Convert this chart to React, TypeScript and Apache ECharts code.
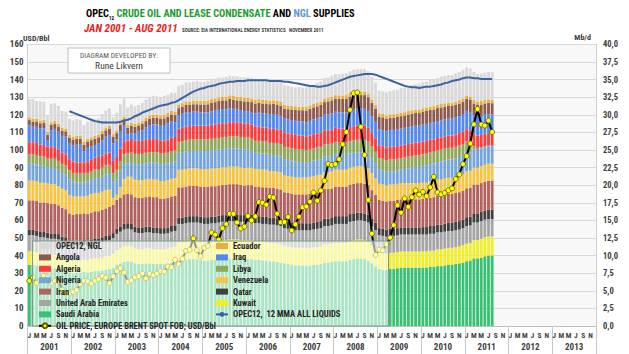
import React, { useEffect, useRef } from 'react';
import * as echarts from 'echarts';

const YEARS = ['2001','2002','2003','2004','2005','2006','2007','2008','2009','2010','2011','2012','2013'];
const MONTH_LETTERS = ['J','F','M','A','M','J','J','A','S','O','N','D'];

// Mb/d, Jan 2001 - Aug 2011
const saudi = [
8.7,8.7,8.6,8.4,8.4,8.3,8.2,8.2,8.1,8.0,7.9,7.6,
7.5,7.6,7.6,7.7,7.6,7.7,7.8,7.8,7.9,8.0,8.1,8.3,
8.7,8.9,9.1,9.2,9.1,8.9,8.8,8.8,8.9,8.9,8.8,8.8,
8.8,8.8,8.9,9.0,9.1,9.3,9.3,9.4,9.5,9.5,9.5,9.4,
9.3,9.3,9.4,9.4,9.5,9.6,9.6,9.6,9.6,9.6,9.5,9.5,
9.5,9.5,9.4,9.4,9.3,9.3,9.2,9.2,9.1,9.0,8.9,8.8,
8.7,8.6,8.6,8.6,8.6,8.6,8.7,8.7,8.8,9.0,9.0,9.1,
9.2,9.2,9.2,9.2,9.4,9.5,9.6,9.6,9.5,9.3,8.9,8.5,
8.1,8.0,8.0,8.1,8.1,8.2,8.3,8.3,8.3,8.3,8.3,8.3,
8.3,8.3,8.4,8.4,8.5,8.5,8.6,8.7,8.7,8.8,8.9,9.0,
9.2,9.3,9.6,9.6,9.7,9.9,10.0,10.0];
const kuwait = [
1.9,1.9,1.9,1.9,1.9,1.9,1.9,1.9,1.9,1.8,1.8,1.7,
1.7,1.7,1.7,1.7,1.7,1.8,1.8,1.8,1.8,1.9,1.9,2.0,
2.1,2.1,2.2,2.2,2.2,2.1,2.1,2.1,2.1,2.1,2.1,2.1,
2.1,2.1,2.1,2.2,2.2,2.6,2.6,2.6,2.6,2.6,2.6,2.6,
2.6,2.6,2.6,2.6,2.6,2.6,2.6,2.7,2.7,2.7,2.7,2.7,
2.7,2.7,2.6,2.6,2.6,2.6,2.6,2.6,2.6,2.6,2.5,2.5,
2.5,2.5,2.5,2.5,2.5,2.5,2.5,2.5,2.5,2.6,2.6,2.6,
2.6,2.6,2.6,2.6,2.7,2.7,2.7,2.7,2.7,2.7,2.6,2.5,
2.3,2.3,2.3,2.3,2.3,2.3,2.3,2.3,2.3,2.3,2.3,2.3,
2.3,2.3,2.3,2.3,2.4,2.4,2.4,2.4,2.4,2.4,2.4,2.5,
2.5,2.5,2.6,2.6,2.7,2.7,2.7,2.7];
const uae = [
2.3,2.3,2.3,2.3,2.3,2.3,2.3,2.3,2.3,2.2,2.2,2.1,
2.1,2.1,2.1,2.1,2.1,2.1,2.1,2.1,2.2,2.2,2.2,2.2,
2.3,2.4,2.4,2.4,2.4,2.3,2.3,2.3,2.3,2.3,2.3,2.3,
2.2,2.2,2.2,2.2,2.2,2.6,2.6,2.6,2.6,2.6,2.6,2.6,
2.6,2.6,2.6,2.6,2.6,2.6,2.6,2.6,2.6,2.6,2.6,2.6,
2.6,2.6,2.6,2.6,2.6,2.6,2.6,2.6,2.6,2.6,2.5,2.5,
2.5,2.5,2.5,2.5,2.5,2.5,2.5,2.6,2.6,2.6,2.6,2.6,
2.7,2.7,2.7,2.7,2.7,2.7,2.7,2.7,2.7,2.7,2.6,2.6,
2.5,2.5,2.4,2.4,2.4,2.4,2.4,2.4,2.4,2.4,2.4,2.4,
2.4,2.4,2.4,2.4,2.4,2.4,2.4,2.4,2.4,2.4,2.4,2.4,
2.5,2.5,2.5,2.5,2.5,2.5,2.5,2.5];
const qatar = [
0.75,0.75,0.75,0.75,0.75,0.75,0.75,0.75,0.75,0.7,0.7,0.7,
0.7,0.7,0.7,0.7,0.7,0.7,0.7,0.7,0.7,0.7,0.7,0.7,
0.75,0.75,0.8,0.8,0.8,0.8,0.8,0.8,0.8,0.8,0.8,0.8,
0.8,0.8,0.8,0.8,0.8,0.9,0.9,0.9,0.9,0.9,0.9,0.9,
0.95,0.95,0.95,0.95,0.95,0.95,0.95,0.95,0.95,0.95,0.95,0.95,
1.0,1.0,1.0,1.0,1.0,1.0,1.0,1.0,1.0,1.0,1.0,1.0,
1.0,1.0,1.0,1.0,1.0,1.0,1.0,1.0,1.0,1.05,1.05,1.05,
1.1,1.1,1.1,1.1,1.1,1.1,1.1,1.1,1.1,1.1,1.1,1.05,
1.0,1.0,1.0,1.0,1.0,1.0,1.0,1.0,1.0,1.0,1.0,1.0,
1.05,1.05,1.1,1.1,1.1,1.1,1.15,1.15,1.15,1.2,1.2,1.2,
1.25,1.25,1.3,1.3,1.3,1.3,1.35,1.35];
const iran = [
4.2,4.2,4.2,4.2,4.2,4.2,4.2,4.2,4.1,4.1,4.0,3.9,
3.8,3.8,3.8,3.8,3.8,3.8,3.9,3.9,3.9,3.9,4.0,4.0,
4.1,4.1,4.2,4.2,4.2,4.2,4.2,4.2,4.2,4.3,4.3,4.3,
4.2,4.2,4.2,4.2,4.2,4.3,4.3,4.3,4.3,4.3,4.3,4.3,
4.3,4.3,4.3,4.3,4.3,4.3,4.3,4.3,4.3,4.3,4.3,4.2,
4.2,4.2,4.2,4.2,4.2,4.2,4.2,4.2,4.2,4.2,4.1,4.1,
4.1,4.1,4.1,4.1,4.1,4.2,4.2,4.2,4.2,4.2,4.2,4.2,
4.2,4.2,4.2,4.2,4.2,4.2,4.2,4.2,4.2,4.2,4.1,4.0,
4.0,4.0,4.0,4.0,4.0,4.0,4.0,4.0,4.0,4.0,4.0,4.0,
4.0,4.0,4.0,4.1,4.1,4.1,4.1,4.1,4.1,4.1,4.1,4.1,
4.1,4.1,4.1,4.1,4.1,4.1,4.1,4.1];
const venezuela = [
2.8,2.8,2.8,2.8,2.8,2.8,2.8,2.8,2.7,2.7,2.7,2.6,
2.6,2.5,2.5,2.4,2.6,2.6,2.6,2.6,2.6,2.6,2.5,1.0,
0.7,1.5,2.2,2.4,2.5,2.5,2.5,2.5,2.5,2.5,2.5,2.5,
2.5,2.5,2.5,2.5,2.5,2.5,2.5,2.5,2.5,2.5,2.5,2.5,
2.5,2.5,2.5,2.5,2.5,2.5,2.5,2.5,2.5,2.5,2.5,2.5,
2.5,2.5,2.5,2.5,2.5,2.5,2.4,2.4,2.4,2.4,2.4,2.4,
2.4,2.4,2.4,2.4,2.4,2.4,2.4,2.4,2.4,2.4,2.4,2.4,
2.4,2.4,2.4,2.4,2.4,2.4,2.4,2.4,2.4,2.4,2.4,2.3,
2.3,2.3,2.3,2.3,2.3,2.3,2.3,2.3,2.3,2.3,2.3,2.3,
2.3,2.3,2.3,2.3,2.3,2.3,2.3,2.3,2.3,2.3,2.4,2.4,
2.4,2.4,2.4,2.4,2.4,2.4,2.4,2.4];
const nigeria = [
2.4,2.4,2.4,2.4,2.4,2.3,2.3,2.3,2.3,2.2,2.2,2.2,
2.1,2.0,2.0,2.0,2.0,2.0,2.1,2.1,2.1,2.2,2.2,2.2,
2.2,2.3,2.1,1.9,2.1,2.2,2.3,2.3,2.3,2.3,2.4,2.4,
2.4,2.4,2.4,2.4,2.4,2.4,2.5,2.5,2.5,2.5,2.5,2.6,
2.6,2.6,2.6,2.6,2.6,2.6,2.6,2.6,2.6,2.6,2.6,2.6,
2.6,2.4,2.3,2.3,2.3,2.3,2.3,2.3,2.3,2.3,2.3,2.3,
2.3,2.3,2.2,2.2,2.1,2.1,2.2,2.2,2.2,2.2,2.2,2.2,
2.2,2.1,2.1,2.1,2.0,2.0,2.0,2.0,2.1,2.1,2.1,2.1,
2.0,2.0,1.9,1.9,1.9,1.9,1.9,2.0,2.1,2.2,2.3,2.3,
2.4,2.5,2.5,2.5,2.5,2.6,2.6,2.6,2.6,2.6,2.6,2.6,
2.6,2.6,2.6,2.5,2.5,2.5,2.5,2.5];
const libya = [
1.35,1.35,1.35,1.35,1.3,1.3,1.3,1.3,1.3,1.3,1.3,1.3,
1.25,1.25,1.25,1.25,1.25,1.25,1.25,1.3,1.3,1.3,1.3,1.3,
1.35,1.35,1.4,1.4,1.4,1.45,1.45,1.45,1.45,1.5,1.5,1.5,
1.5,1.5,1.5,1.55,1.55,1.55,1.55,1.6,1.6,1.6,1.6,1.6,
1.65,1.65,1.65,1.65,1.65,1.65,1.65,1.7,1.7,1.7,1.7,1.7,
1.7,1.7,1.7,1.7,1.7,1.7,1.7,1.7,1.7,1.75,1.75,1.75,
1.75,1.75,1.75,1.75,1.75,1.75,1.75,1.75,1.75,1.75,1.75,1.75,
1.75,1.75,1.75,1.75,1.75,1.75,1.75,1.75,1.75,1.7,1.7,1.7,
1.65,1.65,1.65,1.65,1.65,1.65,1.65,1.65,1.65,1.65,1.65,1.65,
1.65,1.65,1.65,1.65,1.65,1.65,1.65,1.65,1.65,1.65,1.65,1.65,
1.65,1.4,0.4,0.3,0.2,0.15,0.1,0.05];
const algeria = [
1.7,1.7,1.7,1.65,1.65,1.65,1.65,1.65,1.65,1.6,1.6,1.6,
1.6,1.6,1.6,1.6,1.65,1.65,1.65,1.7,1.7,1.7,1.75,1.75,
1.8,1.8,1.85,1.85,1.85,1.85,1.85,1.85,1.85,1.85,1.85,1.85,
1.85,1.85,1.85,1.9,1.9,1.9,1.9,1.9,1.9,1.95,1.95,1.95,
1.95,1.95,2.0,2.0,2.0,2.0,2.0,2.0,2.0,2.0,2.0,2.0,
2.0,2.0,2.0,2.0,2.0,2.0,2.0,2.0,2.0,2.0,2.0,2.0,
2.0,2.0,2.0,2.0,2.0,2.0,2.0,2.0,2.0,2.0,2.0,2.0,
2.0,2.0,2.0,2.0,2.0,2.0,2.0,2.0,2.0,1.95,1.9,1.85,
1.8,1.8,1.8,1.8,1.8,1.8,1.8,1.8,1.8,1.8,1.8,1.8,
1.8,1.8,1.8,1.75,1.75,1.75,1.75,1.75,1.75,1.75,1.75,1.75,
1.75,1.75,1.75,1.75,1.75,1.75,1.75,1.75];
const iraq = [
2.4,2.2,2.3,2.3,2.4,0.9,2.4,2.6,2.5,2.4,2.5,2.3,
2.3,2.5,2.5,1.6,1.9,1.9,1.8,1.9,2.2,2.4,2.5,2.5,
2.5,2.5,2.2,0.9,1.0,1.1,1.3,1.5,1.8,2.0,2.1,2.1,
2.1,2.2,2.3,2.3,2.1,1.9,2.0,2.1,2.0,2.0,2.0,1.9,
1.9,1.9,1.9,2.0,2.0,2.0,2.0,2.0,1.9,1.8,1.8,1.8,
1.7,1.8,1.9,2.0,2.0,2.0,2.1,2.1,2.1,2.0,2.0,2.0,
2.0,2.0,2.0,2.0,2.0,2.1,2.1,2.1,2.2,2.2,2.3,2.3,
2.3,2.3,2.3,2.3,2.4,2.4,2.4,2.4,2.4,2.4,2.4,2.4,
2.3,2.3,2.3,2.4,2.4,2.4,2.4,2.4,2.4,2.4,2.4,2.4,
2.4,2.4,2.4,2.4,2.4,2.4,2.4,2.4,2.4,2.4,2.4,2.5,
2.6,2.6,2.7,2.7,2.7,2.7,2.7,2.7];
const angola = [
0.75,0.75,0.75,0.75,0.75,0.75,0.75,0.75,0.75,0.75,0.75,0.75,
0.85,0.85,0.85,0.9,0.9,0.9,0.9,0.9,0.9,0.9,0.9,0.9,
0.9,0.9,0.9,0.9,0.9,0.9,0.9,0.9,0.9,0.9,0.9,0.9,
0.95,0.95,1.0,1.0,1.0,1.0,1.0,1.0,1.0,1.05,1.05,1.1,
1.1,1.15,1.2,1.2,1.25,1.25,1.25,1.3,1.3,1.3,1.35,1.35,
1.4,1.4,1.4,1.4,1.4,1.4,1.4,1.45,1.45,1.45,1.45,1.45,
1.5,1.55,1.6,1.6,1.65,1.7,1.7,1.75,1.75,1.8,1.8,1.85,
1.85,1.9,1.9,1.95,1.95,1.95,1.95,1.95,1.95,1.95,1.9,1.9,
1.8,1.8,1.75,1.75,1.75,1.75,1.75,1.75,1.8,1.8,1.8,1.8,
1.85,1.85,1.85,1.85,1.85,1.85,1.8,1.8,1.8,1.8,1.8,1.75,
1.7,1.7,1.65,1.65,1.6,1.6,1.6,1.6];
const ecuador = [
0.4,0.4,0.4,0.4,0.4,0.4,0.4,0.4,0.4,0.4,0.4,0.4,
0.4,0.4,0.4,0.4,0.4,0.4,0.4,0.4,0.4,0.4,0.4,0.4,
0.4,0.4,0.4,0.4,0.4,0.4,0.4,0.4,0.45,0.45,0.45,0.45,
0.5,0.5,0.5,0.5,0.5,0.5,0.5,0.5,0.5,0.5,0.5,0.5,
0.52,0.52,0.52,0.52,0.52,0.52,0.52,0.52,0.52,0.52,0.52,0.52,
0.52,0.52,0.52,0.52,0.52,0.52,0.52,0.52,0.52,0.52,0.52,0.52,
0.5,0.5,0.5,0.5,0.5,0.5,0.5,0.5,0.5,0.5,0.5,0.5,
0.5,0.5,0.5,0.5,0.5,0.5,0.5,0.5,0.5,0.5,0.5,0.5,
0.48,0.48,0.48,0.48,0.48,0.48,0.48,0.48,0.48,0.48,0.48,0.48,
0.48,0.48,0.48,0.48,0.48,0.48,0.48,0.48,0.48,0.48,0.48,0.48,
0.5,0.5,0.5,0.5,0.5,0.5,0.5,0.5];
const ngl = [
2.6,2.8,2.5,2.7,2.6,2.4,2.6,2.5,2.5,2.4,2.4,2.3,
2.3,2.4,2.3,2.4,2.4,2.3,2.4,2.3,2.4,2.4,2.5,2.4,
2.5,2.5,2.6,2.5,2.6,2.5,2.5,2.6,2.6,2.6,2.7,2.6,
2.6,2.7,2.6,2.6,2.7,2.7,2.6,2.7,2.7,2.7,2.8,2.7,
2.7,2.8,2.7,2.8,2.8,2.7,2.8,2.8,2.8,2.9,2.8,2.9,
2.9,2.9,2.8,2.9,2.9,2.8,2.9,2.9,2.8,2.8,2.8,2.8,
2.7,2.7,2.8,2.7,2.8,2.8,2.7,2.8,2.8,2.9,2.9,3.0,
3.0,3.0,3.1,3.1,3.1,3.2,3.2,3.2,3.2,3.2,3.2,3.2,
3.2,3.2,3.3,3.3,3.4,3.4,3.5,3.5,3.5,3.6,3.6,3.7,
3.7,3.7,3.8,3.8,3.8,3.9,3.9,3.9,3.9,4.0,4.0,4.0,
4.0,4.0,4.0,3.9,3.9,3.9,3.9,3.9];

// OPEC12 all liquids, 12 month moving average, Mb/d
const mma12 = [
null,null,null,null,null,null,null,null,null,null,null,30.5,
30.3,30.1,29.9,29.7,29.5,29.3,29.1,29.0,28.9,28.9,28.9,28.9,
28.9,29.0,29.2,29.3,29.5,29.8,30.0,30.3,30.5,30.7,30.9,31.1,
31.3,31.4,31.5,31.7,31.8,32.1,32.4,32.7,33.0,33.3,33.5,33.7,
33.8,34.0,34.1,34.2,34.4,34.5,34.6,34.7,34.7,34.8,34.8,34.8,
34.9,34.9,34.9,34.9,34.9,34.9,34.8,34.8,34.8,34.8,34.7,34.7,
34.6,34.5,34.4,34.3,34.2,34.1,34.1,34.0,34.0,34.1,34.2,34.4,
34.6,34.8,35.0,35.2,35.4,35.5,35.6,35.7,35.8,35.8,35.8,35.7,
35.5,35.3,35.1,34.9,34.7,34.5,34.3,34.1,34.0,33.9,33.9,33.8,
33.9,34.0,34.0,34.1,34.2,34.3,34.5,34.6,34.8,34.9,35.0,35.2,
35.3,35.3,35.2,35.2,35.1,35.1,35.1,35.1];

// Brent spot, USD/Bbl
const oilPrice = [
25.6,27.5,24.5,25.7,28.4,27.7,24.5,25.7,25.6,20.5,18.8,18.7,
19.4,20.3,23.7,25.7,25.4,24.1,25.7,26.6,28.4,27.5,24.3,28.3,
31.2,32.8,30.4,25.0,25.8,27.6,28.4,29.8,27.1,29.6,28.8,29.8,
31.3,30.9,33.8,33.4,37.6,35.2,38.2,42.7,43.2,49.8,43.1,39.6,
44.5,45.5,53.1,51.9,49.0,55.6,57.9,63.8,63.7,58.8,55.4,56.5,
62.5,60.0,62.3,70.4,70.0,68.9,73.5,73.0,63.8,58.9,59.1,62.0,
54.3,57.8,62.1,67.5,67.9,70.6,75.8,71.2,77.0,82.5,92.1,91.5,
92.0,94.8,103.3,110.2,122.8,132.3,132.7,113.2,97.2,71.6,52.5,40.4,
43.4,43.0,46.5,50.2,57.3,68.6,64.4,72.5,67.7,73.2,77.0,74.7,
76.2,73.8,78.8,84.8,75.9,74.8,75.6,77.1,78.2,83.5,86.1,92.0,
96.5,103.7,114.6,123.3,114.5,113.9,116.7,110.2];

const FONT = "'Liberation Sans Narrow', 'Arial Narrow', 'Roboto Condensed', 'DejaVu Sans Condensed', 'Liberation Sans', sans-serif";

const months: string[] = [];
YEARS.forEach(() => MONTH_LETTERS.forEach((m) => months.push(m)));

const stack = [
  { name: 'Saudi Arabia', data: saudi, color: '#38c172' },
  { name: 'Kuwait', data: kuwait, color: '#f0ee2a' },
  { name: 'United Arab Emirates', data: uae, color: '#a5a5a5' },
  { name: 'Qatar', data: qatar, color: '#3f3f3f' },
  { name: 'Iran', data: iran, color: '#b0625e' },
  { name: 'Venezuela', data: venezuela, color: '#f7c544' },
  { name: 'Nigeria', data: nigeria, color: '#76a5dd' },
  { name: 'Libya', data: libya, color: '#8fa85c' },
  { name: 'Algeria', data: algeria, color: '#ff3c3c' },
  { name: 'Iraq', data: iraq, color: '#5588ee' },
  { name: 'Angola', data: angola, color: '#8c5a4f' },
  { name: 'Ecuador', data: ecuador, color: '#e8b040' },
  { name: 'OPEC12, NGL', data: ngl, color: '#d9d9d9' },
];

const OIL_NAME = 'OIL PRICE, EUROPE BRENT SPOT FOB; USD/Bbl';
const MMA_NAME = 'OPEC12,  12 MMA ALL LIQUIDS';

export default function App() {
  const ref = useRef<HTMLDivElement>(null);
  useEffect(() => {
    document.body.style.margin = '0';
    const chart = echarts.init(ref.current!, null, { renderer: 'svg' });
    const legendText = { fontSize: 8.5, fontWeight: 'bold', color: '#262626', fontFamily: FONT, lineHeight: 8 };
    const rectIcon = (n: string) => ({ name: n, icon: 'rect' });
    const option: any = {
      animation: false,
      textStyle: { fontFamily: FONT },
      grid: { left: 27.5, right: 33, top: 44.4, bottom: 28, show: true, backgroundColor: '#f8f8f8', borderWidth: 0 },
      xAxis: [
        {
          type: 'category', data: months, gridIndex: 0, position: 'bottom',
          axisLine: { show: true, lineStyle: { color: '#bfbfbf' } },
          axisTick: { show: true, interval: (i: number) => i % 12 === 0, length: 28, lineStyle: { color: '#c8c8c8' } },
          axisLabel: { interval: 1, fontSize: 7.5, fontWeight: 'bold', color: '#404040', margin: 5, fontFamily: FONT },
          splitLine: { show: false },
        },
        {
          type: 'category', data: YEARS, gridIndex: 0, position: 'bottom', offset: 13,
          axisLine: { show: false }, axisTick: { show: false },
          axisLabel: { interval: 0, fontSize: 9, fontWeight: 'bold', color: '#404040', margin: 3.5, fontFamily: FONT },
          splitLine: { show: false },
        },
      ],
      yAxis: [
        {
          type: 'value', min: 0, max: 160, interval: 10, position: 'left',
          axisLine: { show: true, lineStyle: { color: '#d0d0d0' } }, axisTick: { show: false },
          axisLabel: { fontSize: 9, fontWeight: 'bold', color: '#404040', margin: 4, fontFamily: FONT },
          splitLine: { show: true, lineStyle: { color: '#d9d9d9' } },
        },
        {
          type: 'value', min: 0, max: 40, interval: 2.5, position: 'right',
          axisLine: { show: true, lineStyle: { color: '#d0d0d0' } }, axisTick: { show: false },
          axisLabel: { fontSize: 8.5, fontWeight: 'bold', color: '#404040', margin: 7, fontFamily: FONT,
            formatter: (v: number) => v.toFixed(1).replace('.', ',') },
          splitLine: { show: false },
        },
      ],
      legend: [
        {
          z: 10, left: 38, top: 241.5, orient: 'vertical', itemWidth: 12, itemHeight: 6, itemGap: 2.4,
          selectedMode: false, textStyle: legendText, padding: 0,
          data: [rectIcon('OPEC12, NGL'), rectIcon('Angola'), rectIcon('Algeria'), rectIcon('Nigeria'),
            rectIcon('Iran'), rectIcon('United Arab Emirates'), rectIcon('Saudi Arabia'), { name: OIL_NAME }],
        },
        {
          z: 10, left: 215, top: 241.5, orient: 'vertical', itemWidth: 12, itemHeight: 6, itemGap: 2.4,
          selectedMode: false, textStyle: legendText, padding: 0,
          data: [rectIcon('Ecuador'), rectIcon('Iraq'), rectIcon('Libya'), rectIcon('Venezuela'),
            rectIcon('Qatar'), rectIcon('Kuwait'), { name: MMA_NAME }],
        },
      ],
      series: [
        ...stack.map((s) => ({
          name: s.name, type: 'bar', stack: 'opec', xAxisIndex: 0, yAxisIndex: 1,
          data: s.data, barCategoryGap: '22%', silent: true,
          itemStyle: { color: s.color }, emphasis: { disabled: true },
        })),
        {
          name: MMA_NAME, type: 'line', xAxisIndex: 0, yAxisIndex: 1, data: mma12, symbol: 'none',
          lineStyle: { color: '#3a63a0', width: 2 }, itemStyle: { color: '#3a63a0' }, z: 3, silent: true,
        },
        {
          name: OIL_NAME, type: 'line', xAxisIndex: 0, yAxisIndex: 0, data: oilPrice,
          symbol: 'circle', symbolSize: 5, showAllSymbol: true,
          lineStyle: { color: '#000000', width: 2 },
          itemStyle: { color: '#ffff00', borderColor: '#5e5e00', borderWidth: 0.8 }, z: 4, silent: true,
        },
      ],
      graphic: [
        {
          type: 'rect', z: 6, silent: true,
          shape: { x: 32.5, y: 241, width: 356, height: 85 },
          style: { fill: 'rgba(255,255,255,0.58)', stroke: '#7f9c8a', lineWidth: 1 },
        },
        {
          type: 'rect', z: 6, silent: true,
          shape: { x: 68, y: 48, width: 102, height: 25 },
          style: { fill: '#ffffff', stroke: '#c0c0c0', lineWidth: 1 },
        },
        {
          type: 'text', z: 7, x: 119, y: 55.5, silent: true,
          style: { text: 'DIAGRAM DEVELOPED BY:', fill: '#595959', font: `7.5px ${FONT}`, textAlign: 'center', textVerticalAlign: 'middle' },
        },
        {
          type: 'text', z: 7, x: 119, y: 65.5, silent: true,
          style: { text: 'Rune Likvern', fill: '#404040', font: `9.5px ${FONT}`, textAlign: 'center', textVerticalAlign: 'middle' },
        },
        {
          type: 'text', z: 7, x: 86, y: 13, silent: true,
          style: {
            text: '{k|OPEC}{s|12}{g| CRUDE OIL AND LEASE CONDENSATE}{k| AND }{b|NGL}{k| SUPPLIES}',
            textVerticalAlign: 'middle',
            rich: {
              k: { fontSize: 10.3, fontWeight: 'bold', fill: '#000000', fontFamily: FONT, lineHeight: 14 },
              s: { fontSize: 5, fontWeight: 'bold', fill: '#000000', fontFamily: FONT, lineHeight: 14, verticalAlign: 'bottom', padding: [3, 0, 0, 0] },
              g: { fontSize: 10.3, fontWeight: 'bold', fill: '#1c9a2e', fontFamily: FONT, lineHeight: 14 },
              b: { fontSize: 10.3, fontWeight: 'bold', fill: '#5b9bd5', fontFamily: FONT, lineHeight: 14 },
            },
          },
        },
        {
          type: 'text', z: 7, x: 84, y: 28.5, silent: true,
          style: { text: 'JAN 2001 - AUG 2011', fill: '#ee1c1c', font: `italic bold 11px ${FONT}`, textVerticalAlign: 'middle' },
        },
        {
          type: 'text', z: 7, x: 182, y: 29.5, silent: true,
          style: { text: 'SOURCE: EIA INTERNATIONAL ENERGY STATISTICS   NOVEMBER 2011', fill: '#404040', font: `bold 5px ${FONT}`, textVerticalAlign: 'middle' },
        },
        {
          type: 'text', z: 7, x: 23, y: 38, silent: true,
          style: { text: 'USD/Bbl', fill: '#404040', font: `bold 8px ${FONT}`, textVerticalAlign: 'middle' },
        },
        {
          type: 'text', z: 7, x: 591, y: 37, silent: true,
          style: { text: 'Mb/d', fill: '#404040', font: `bold 8px ${FONT}`, textAlign: 'right', textVerticalAlign: 'middle' },
        },
      ],
    };
    chart.setOption(option);
    return () => chart.dispose();
  }, []);
  return <div ref={ref} style={{ width: 629, height: 354 }} />;
}
